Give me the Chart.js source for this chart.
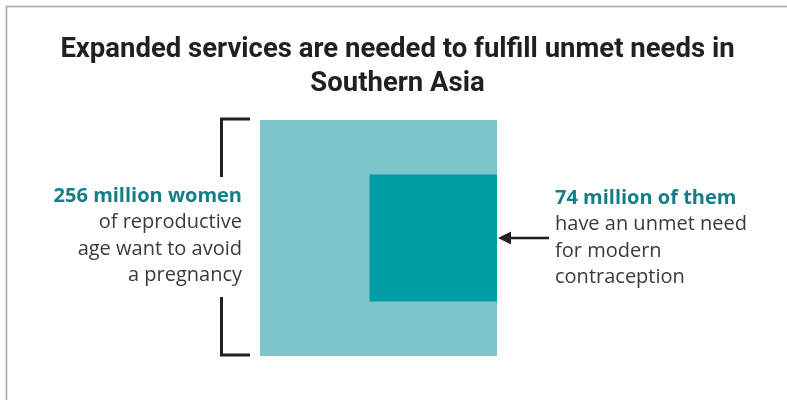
<!DOCTYPE html>
<html>
<head>
<meta charset="utf-8">
<script src="https://cdn.jsdelivr.net/npm/chart.js@4.4.1/dist/chart.umd.min.js"></script>
<style>
  html, body { margin: 0; padding: 0; background: #fff; }
  #wrap { width: 787px; height: 400px; }
</style>
</head>
<body>
<div id="wrap"><canvas id="squareChart" width="787" height="400"></canvas></div>
<script>
// Dane grafikui (milijonai moterų)
const titleLines = ['Expanded services are needed to fulfill unmet needs in', 'Southern Asia'];
const groups = ['Want to avoid a pregnancy', 'Unmet need for modern contraception'];
const womenMillions = [256, 74];
const headLines = ['256 million women', '74 million of them'];
const bodyLines = [
    ['of reproductive', 'age want to avoid', 'a pregnancy'],
    ['have an unmet need', 'for modern', 'contraception']
];
const squareColors = ['#7cc5ca', '#009fa6'];

const teal = '#137e88';
const ink = '#231f20';
const textGrey = '#3a3a3a';

// Kvadrato kraštinė proporcinga sqrt(reikšmės), kad plotas atitiktų skaičių
const bigSide = Math.sqrt(womenMillions[0]);
const smallSide = Math.sqrt(womenMillions[1]);

function squarePoints(x0, y0, side) {
    return [
        { x: x0, y: y0 },
        { x: x0 + side, y: y0 },
        { x: x0 + side, y: y0 + side },
        { x: x0, y: y0 + side },
        { x: x0, y: y0 }
    ];
}

// Mažasis kvadratas prigludęs prie dešinės, centruotas vertikaliai
const bigPts = squarePoints(0, 0, bigSide);
const smallPts = squarePoints(bigSide - smallSide, (bigSide - smallSide) / 2, smallSide);

const annotations = {
    id: 'annotations',
    afterDraw(chart) {
        const ctx = chart.ctx;
        const x = chart.scales.x;
        const y = chart.scales.y;
        const left = x.getPixelForValue(0);
        const right = x.getPixelForValue(bigSide);
        const top = y.getPixelForValue(bigSide);
        const bottom = y.getPixelForValue(0);
        const midY = y.getPixelForValue(bigSide / 2);

        ctx.save();

        // rėmelis
        ctx.strokeStyle = '#a3a3a3';
        ctx.lineWidth = 1.5;
        ctx.beginPath();
        ctx.moveTo(6.5, 420);
        ctx.lineTo(6.5, 6.5);
        ctx.lineTo(800, 6.5);
        ctx.stroke();

        // laužtinis skliaustas kairėje
        const bx = left - 38.5;
        ctx.strokeStyle = ink;
        ctx.lineWidth = 3;
        ctx.beginPath();
        ctx.moveTo(left - 10, top - 1);
        ctx.lineTo(bx, top - 1);
        ctx.lineTo(bx, midY - 61);
        ctx.moveTo(bx, midY + 59);
        ctx.lineTo(bx, bottom - 1);
        ctx.lineTo(left - 10, bottom - 1);
        ctx.stroke();

        // rodyklė dešinėje
        ctx.lineWidth = 2.5;
        ctx.beginPath();
        ctx.moveTo(right + 52, midY);
        ctx.lineTo(right + 10, midY);
        ctx.stroke();
        ctx.fillStyle = ink;
        ctx.beginPath();
        ctx.moveTo(right + 1, midY);
        ctx.lineTo(right + 14, midY - 6.5);
        ctx.lineTo(right + 14, midY + 6.5);
        ctx.closePath();
        ctx.fill();

        // tekstai
        const lh = 26.5;
        const blocks = [
            { x: left - 18, align: 'right', y0: midY - 42 },
            { x: right + 58, align: 'left', y0: midY - 40 }
        ];
        blocks.forEach((b, i) => {
            ctx.textAlign = b.align;
            ctx.textBaseline = 'middle';
            ctx.fillStyle = teal;
            ctx.font = 'bold 20px "Open Sans"';
            ctx.fillText(headLines[i], b.x, b.y0);
            ctx.fillStyle = textGrey;
            ctx.font = '20px "Open Sans"';
            bodyLines[i].forEach((line, j) => {
                ctx.fillText(line, b.x, b.y0 + lh * (j + 1));
            });
        });

        ctx.restore();
    }
};

const ctx = document.getElementById('squareChart').getContext('2d');
const squareChart = new Chart(ctx, {
    type: 'scatter',
    data: {
        datasets: [{
            label: groups[1],
            data: smallPts,
            showLine: true,
            fill: 'shape',
            backgroundColor: squareColors[1],
            borderColor: 'rgba(0,0,0,0)',
            borderWidth: 1,
            pointRadius: 0,
            tension: 0,
            order: 1
        }, {
            label: groups[0],
            data: bigPts,
            showLine: true,
            fill: 'shape',
            backgroundColor: squareColors[0],
            borderColor: 'rgba(0,0,0,0)',
            borderWidth: 1,
            pointRadius: 0,
            tension: 0,
            order: 2
        }]
    },
    options: {
        responsive: false,
        animation: false,
        events: [],
        layout: {
            padding: { top: 0, bottom: 44, left: 8, right: 0 }
        },
        scales: {
            x: { type: 'linear', display: false, min: -17.013, max: 35.578 },
            y: { type: 'linear', display: false, min: 0, max: bigSide }
        },
        plugins: {
            legend: { display: false },
            tooltip: { enabled: false },
            title: {
                display: true,
                text: titleLines,
                color: ink,
                font: { family: 'Roboto', size: 27.5, weight: 'bold', lineHeight: 1.2364 },
                padding: { top: 33, bottom: 19 }
            }
        }
    },
    plugins: [annotations]
});
</script>
</body>
</html>
